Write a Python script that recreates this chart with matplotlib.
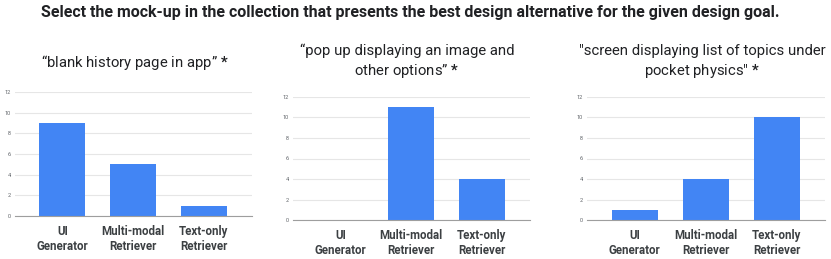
"""
Design-goal mock-up selection: three bar panels
"""

import matplotlib.pyplot as plt

# ---------------------------------------------------------------------------- #
# Data
# ---------------------------------------------------------------------------- #

categories = ['UI\nGenerator', 'Multi-modal\nRetriever', 'Text-only\nRetriever']
titles = ['\u201cblank history page in app\u201d',
          '\u201cpop up displaying an image and\nother options\u201d',
          '"screen displaying list of topics under\npocket physics"']
votes_history = [9, 5, 1]
votes_popup = [0, 11, 4]
votes_physics = [1, 4, 10]
yticks = [0, 2, 4, 6, 8, 10, 12]
suptitle = ('Select the mock-up in the collection that presents the best '
            'design alternative for the given design goal.')

# ---------------------------------------------------------------------------- #
# Layout (pixels)
# ---------------------------------------------------------------------------- #

W, H = 831, 259
blue = '#4285F4'
plt.rcParams['font.family'] = ['Roboto', 'DejaVu Sans']
plt.rcParams['mathtext.fontset'] = 'custom'
plt.rcParams['mathtext.bf'] = 'Roboto:bold'
plt.rcParams['mathtext.rm'] = 'Roboto'

fig = plt.figure(figsize=(W / 100, H / 100), dpi=100)

# left, right, top, bottom of each plot area in pixels from top-left
boxes = [(15, 252, 92, 216), (293, 530, 97, 220), (587, 825, 97, 220)]
title_pos = [(135, 63), (407, 62), (702, 62)]

fig.text(410 / W, 1 - 12 / H, suptitle, ha='center', va='center',
         fontsize=11.5, fontweight='bold', color='#202124')

panels = [votes_history, votes_popup, votes_physics]

for (l, r, t, b), vals, title, (tx, ty) in zip(boxes, panels, titles, title_pos):
    ax = fig.add_axes([l / W, 1 - b / H, (r - l) / W, (b - t) / H])
    ax.bar(range(len(categories)), vals, width=0.65, color=blue, zorder=3)
    ax.set_ylim(0, 12)
    ax.set_xlim(-0.67, 2.68)
    ax.set_yticks(yticks)
    ax.set_xticks(range(len(categories)))
    ax.set_xticklabels(categories, fontsize=8.3, fontweight='bold', color='#3c4043',
                       linespacing=1.15)
    ax.tick_params(axis='y', labelsize=4, colors='#5f6368', length=0, pad=3)
    ax.tick_params(axis='x', length=0, pad=6.5)
    ax.grid(axis='y', color='#e6e6e6', linewidth=0.8, zorder=0)
    for side in ['top', 'right', 'left']:
        ax.spines[side].set_visible(False)
    ax.spines['bottom'].set_color('#9e9e9e')
    ax.spines['bottom'].set_linewidth(0.8)
    ax.spines['bottom'].set_zorder(4)

    # title with a bold asterisk at the end
    fig.text(tx / W, 1 - ty / H, title + r' $\mathbf{*}$', ha='center', va='center',
             fontsize=10.7, color='#202124', linespacing=1.3)

fig.savefig('out.png', dpi=100)
plt.close()
